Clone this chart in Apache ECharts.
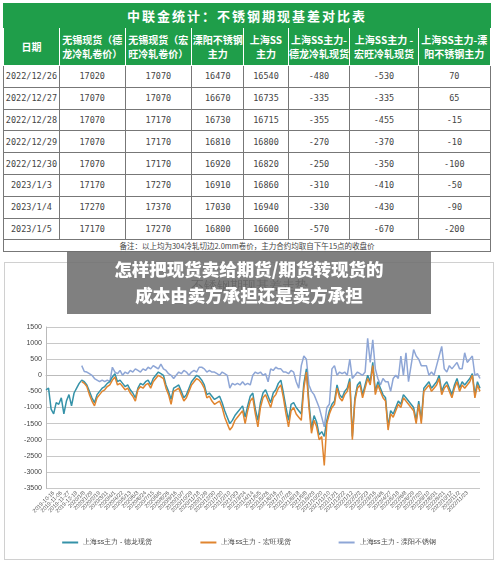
<!DOCTYPE html>
<html><head><meta charset="utf-8">
<script src="https://cdn.jsdelivr.net/npm/echarts@6/dist/echarts.min.js"></script>
<style>
body{margin:0;width:500px;height:566px;background:#fff;position:relative;overflow:hidden;font-family:"Noto Sans CJK SC",sans-serif;}
#tbl{position:absolute;left:3px;top:3px;width:488px;border:1px solid #555;border-collapse:collapse;}
#tbl td{border:1px solid #777;text-align:center;font-size:8.5px;color:#444;height:20.8px;padding:0;font-family:"DejaVu Sans Mono","Noto Sans CJK SC",monospace;}
#tbl tr.t td{background:#1f9e4a;color:#fff;font-weight:bold;font-size:13px;height:23px;letter-spacing:2px;font-family:"Noto Sans CJK SC";border-color:#1f9e4a;}
#tbl tr.h td{background:#1f9e4a;color:#fff;font-weight:bold;font-size:10px;height:37px;line-height:14px;font-family:"Noto Sans CJK SC";border:1px solid #fff;}
#tbl tr.n td{height:10px;font-size:7.5px;font-family:"Noto Sans CJK SC";}
#chartbox{position:absolute;left:4px;top:262px;width:488px;height:296px;border:1px solid #d0d0d0;}
#overlay{position:absolute;left:67px;top:251px;width:364px;height:63px;background:rgba(110,110,110,0.88);color:#fff;font-weight:900;font-size:17.5px;line-height:26px;text-align:center;padding-top:5px;box-sizing:border-box;font-family:"Noto Sans CJK SC";z-index:5;}
</style></head><body>
<table id="tbl"></table>
<div id="chartbox"></div>
<div id="overlay">怎样把现货卖给期货/期货转现货的<br>成本由卖方承担还是卖方承担</div>
<script>
const tableTitle = "中联金统计：不锈钢期现基差对比表";
const tableHeaders = ["日期","无锡现货（德<br>龙冷轧卷价）","无锡现货（宏<br>旺冷轧卷价）","溧阳不锈钢<br>主力","上海SS<br>主力","上海SS主力-<br>德龙冷轧现货","上海SS主力 -<br>宏旺冷轧现货","上海SS主力-溧<br>阳不锈钢主力"];
const tableDates = ["2022/12/26","2022/12/27","2022/12/28","2022/12/29","2022/12/30","2023/1/3","2023/1/4","2023/1/5"];
const spotDelong = [17020,17070,17070,17070,17070,17170,17270,17170];
const spotHongwang = [17070,17070,17170,17170,17170,17270,17370,17270];
const liyangMain = [16470,16670,16730,16810,16920,16910,17030,16800];
const shfeMain = [16540,16735,16715,16800,16820,16860,16940,16600];
const basisDelong = [-480,-335,-355,-270,-250,-310,-330,-570];
const basisHongwang = [-530,-335,-455,-370,-350,-410,-430,-670];
const basisLiyang = [70,65,-15,-10,-100,-50,-90,-200];
const tableNote = "备注：以上均为304冷轧切边2.0mm卷价，主力合约均取自下午15点的收盘价";
const colW = [55,66,67,52,44,62,69,73];

const seriesNames = ["上海ss主力 - 德龙现货","上海ss主力 - 宏旺现货","上海ss主力 - 溧阳不锈钢"];
const N = 171;
const startDate = new Date(2019,8,25);
const categories = [];
for(let i=0;i<N;i++){const d=new Date(startDate.getTime()+i*7*864e5);
 const y=d.getFullYear(),m=d.getMonth()+1,dd=d.getDate();
 categories.push(y===2019?`${y}-${String(m).padStart(2,'0')}-${String(dd).padStart(2,'0')}`:`${y}/${m}/${dd}`);}
const nul14 = [null,null,null,null,null,null,null,null,null,null,null,null,null,null];
const delong = [-450,-400,-1050,-1200,-850,-900,-700,-1200,-800,-600,-950,-550,-400,-250,
-150,-200,-300,-500,-700,-850,-600,-500,-400,-350,
-250,-200,-50,50,-200,-150,-250,-350,-300,-450,
-550,-700,-400,-250,-300,-200,-150,-300,-100,0,
100,50,0,-300,-500,-750,-400,-350,-300,-500,
-700,-600,-400,-200,-100,0,-50,-150,-300,-600,
-550,-650,-750,-700,-650,-850,-1100,-1300,-1500,-1400,
-1250,-1150,-1050,-950,-1300,-950,-650,-550,-1050,-1400,
-850,-550,-450,-650,-850,-550,-450,-250,-150,-550,
-1000,-1400,-900,-850,-1000,-1100,-1200,-250,200,-850,
-1650,-1250,-1450,-1850,-1750,-1900,-1400,-1100,-900,-800,
-300,-600,-700,-500,-400,-100,-1900,-700,-300,-200,
-600,-300,0,-200,400,-500,-200,-400,-600,-700,
-1600,-1100,-1200,-1000,-800,-900,-600,-700,-800,-900,
-1000,-1400,-800,-1400,-400,-300,-200,-400,-300,-200,
0,-500,-300,-200,-400,-600,-300,-100,-400,-200,
-300,-200,-100,50,-600,-200,-400];
const hongwang = nul14.concat([-200,-250,-350,-600,-800,-950,-700,-600,-500,-450,
-350,-300,-150,-50,-300,-250,-350,-450,-400,-550,
-650,-800,-450,-350,-400,-300,-250,-400,-200,-100,
0,-50,-100,-400,-600,-900,-500,-450,-400,-600,
-800,-700,-500,-300,-200,-100,-150,-250,-400,-700,
-650,-800,-900,-850,-800,-1000,-1300,-1500,-1700,-1600,
-1400,-1300,-1200,-1100,-1500,-1100,-800,-700,-1200,-1600,
-1000,-700,-600,-800,-1000,-700,-600,-400,-300,-700,
-1200,-1600,-1100,-1000,-1200,-1300,-1400,-400,100,-1000,
-1800,-1400,-1600,-2000,-1900,-2800,-1500,-1200,-1000,-900,
-400,-700,-800,-600,-500,-200,-2000,-800,-400,-300,
-700,-400,-100,-300,300,-600,-300,-500,-700,-800,
-1700,-1200,-1300,-1100,-900,-1000,-700,-800,-900,-1000,
-1100,-1500,-900,-1500,-500,-400,-300,-500,-400,-300,
-100,-600,-400,-300,-500,-700,-400,-200,-500,-300,
-400,-300,-200,0,-700,-300,-500]);
const liyang = nul14.concat([300,120,100,50,0,-100,-150,-200,-150,-200,
-150,-200,250,100,50,150,0,100,50,150,
100,200,150,100,200,150,250,200,300,250,
200,350,200,150,50,0,-100,0,100,50,
150,100,0,100,150,100,250,250,200,100,
150,100,100,50,0,100,50,0,-400,-250,
-300,-250,-300,-200,-300,-250,-300,0,100,50,
100,0,50,-200,200,150,250,200,200,100,
100,50,150,100,-200,-400,300,600,500,-300,
-500,-600,-800,-1000,-1300,-1600,-1000,-900,200,300,
0,100,50,100,0,500,-100,0,100,50,
0,100,1150,400,1100,200,-100,-300,-100,-200,
-200,-500,-100,0,-100,600,0,700,-200,300,
800,600,500,300,300,300,0,100,0,300,
600,900,200,100,300,200,300,400,200,200,
700,400,500,600,0,50,-100]);

const t=document.getElementById('tbl');
let html=`<tr class="t"><td colspan="8">${tableTitle}</td></tr><tr class="h">`+tableHeaders.map((h,i)=>`<td style="width:${colW[i]}px">${h}</td>`).join('')+'</tr>';
for(let i=0;i<tableDates.length;i++){html+=`<tr><td>${tableDates[i]}</td><td>${spotDelong[i]}</td><td>${spotHongwang[i]}</td><td>${liyangMain[i]}</td><td>${shfeMain[i]}</td><td>${basisDelong[i]}</td><td>${basisHongwang[i]}</td><td>${basisLiyang[i]}</td></tr>`;}
html+=`<tr class="n"><td colspan="8">${tableNote}</td></tr>`;
t.innerHTML=html;

const chart=echarts.init(document.getElementById('chartbox'));
chart.setOption({
 animation:false,
 title:{text:'不锈钢期现基差走势',left:'center',top:12,textStyle:{fontSize:13,color:'#333',fontWeight:'normal'}},
 grid:{left:41,right:13,top:64,bottom:71},
 legend:{bottom:8,itemWidth:16,itemHeight:2,itemGap:48,icon:'rect',textStyle:{fontSize:7,color:'#444'},data:seriesNames},
 xAxis:{type:'category',data:categories,boundaryGap:false,
  axisLine:{lineStyle:{color:'#bbb'}},axisTick:{show:false},
  axisLabel:{interval:2,rotate:45,fontSize:5.5,color:'#555',margin:4}},
 yAxis:{type:'value',min:-3500,max:1500,interval:500,
  axisLine:{show:true,lineStyle:{color:'#bbb'}},axisTick:{show:false},
  axisLabel:{fontSize:7,color:'#444',margin:4,formatter:v=>String(v)},
  splitLine:{lineStyle:{color:'#c8c8c8',width:1}}},
 series:[
  {name:seriesNames[0],type:'line',data:delong,showSymbol:false,color:'#3592a8',lineStyle:{width:1.5},z:2},
  {name:seriesNames[2],type:'line',data:liyang,showSymbol:false,color:'#8ea6d6',lineStyle:{width:1.5},z:1},
  {name:seriesNames[1],type:'line',data:hongwang,showSymbol:false,color:'#e0852f',lineStyle:{width:1.5},z:3}
 ]
});
</script></body></html>
